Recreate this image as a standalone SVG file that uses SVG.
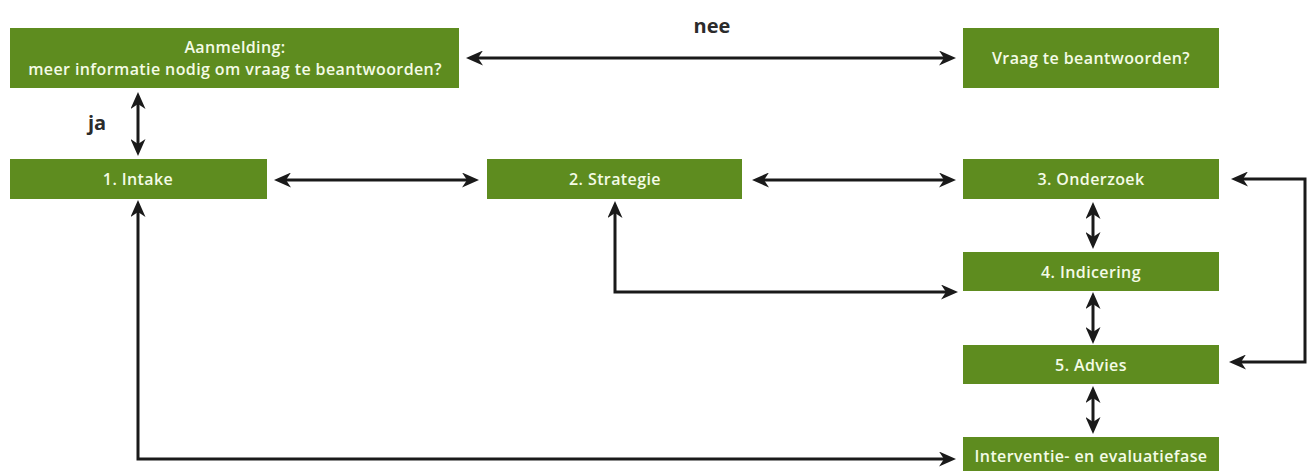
<svg xmlns="http://www.w3.org/2000/svg" width="1311" height="471" viewBox="0 0 1311 471">
<defs>
<style>
.box{fill:#5e8c1f}
.lbl{font-family:"Open Sans","Liberation Sans",sans-serif;font-size:16px;letter-spacing:0.4px;fill:#f4fbe6;text-anchor:middle;font-weight:600}
.cap{font-family:"Open Sans","Liberation Sans",sans-serif;font-size:20px;font-weight:700;fill:#2b2b2b;text-anchor:middle}
.ln{fill:none;stroke:#1a1a1a;stroke-width:3;marker-start:url(#ah);marker-end:url(#ah)}
</style>
<marker id="ah" viewBox="0 0 17 15" refX="12" refY="7.5" markerWidth="17" markerHeight="15" markerUnits="userSpaceOnUse" orient="auto-start-reverse">
<path d="M0,0 L17,7.5 L0,15 L5,7.5 z" fill="#1a1a1a"/>
</marker>
</defs>
<rect width="1311" height="471" fill="#fff"/>
<g id="n-aanmelding"><rect class="box" x="10" y="28" width="449" height="60"/>
<text class="lbl" x="235" y="53">Aanmelding:</text>
<text class="lbl" x="235" y="75">meer informatie nodig om vraag te beantwoorden?</text></g>
<g id="n-vraag"><rect class="box" x="963" y="28" width="256" height="60"/>
<text class="lbl" x="1091" y="64">Vraag te beantwoorden?</text></g>
<g id="n-intake"><rect class="box" x="10" y="159" width="257" height="40"/>
<text class="lbl" x="138" y="185">1. Intake</text></g>
<g id="n-strategie"><rect class="box" x="487" y="159" width="255" height="40"/>
<text class="lbl" x="615" y="185">2. Strategie</text></g>
<g id="n-onderzoek"><rect class="box" x="963" y="159" width="256" height="40"/>
<text class="lbl" x="1091" y="185">3. Onderzoek</text></g>
<g id="n-indicering"><rect class="box" x="963" y="252" width="256" height="39"/>
<text class="lbl" x="1091" y="278">4. Indicering</text></g>
<g id="n-advies"><rect class="box" x="963" y="345" width="256" height="39"/>
<text class="lbl" x="1091" y="371">5. Advies</text></g>
<g id="n-interventie"><rect class="box" x="963" y="437" width="256" height="36"/>
<text class="lbl" x="1091" y="462">Interventie- en evaluatiefase</text></g>
<g id="connectors">
<line class="ln" x1="471" y1="58" x2="951" y2="58"/>
<line class="ln" x1="138" y1="97" x2="138" y2="151"/>
<line class="ln" x1="279" y1="180" x2="474" y2="180"/>
<line class="ln" x1="757" y1="180" x2="951" y2="180"/>
<polyline class="ln" points="1236,179 1305,179 1305,362 1234,362"/>
<line class="ln" x1="1093" y1="207" x2="1093" y2="244"/>
<line class="ln" x1="1093" y1="297" x2="1093" y2="339"/>
<line class="ln" x1="1093" y1="391" x2="1093" y2="429"/>
<polyline class="ln" points="615,206 615,292 953,292"/>
<polyline class="ln" points="138,205 138,459 951,459"/>
<text class="cap" x="712" y="33">nee</text>
<text class="cap" x="97" y="130">ja</text>
</g>
</svg>
